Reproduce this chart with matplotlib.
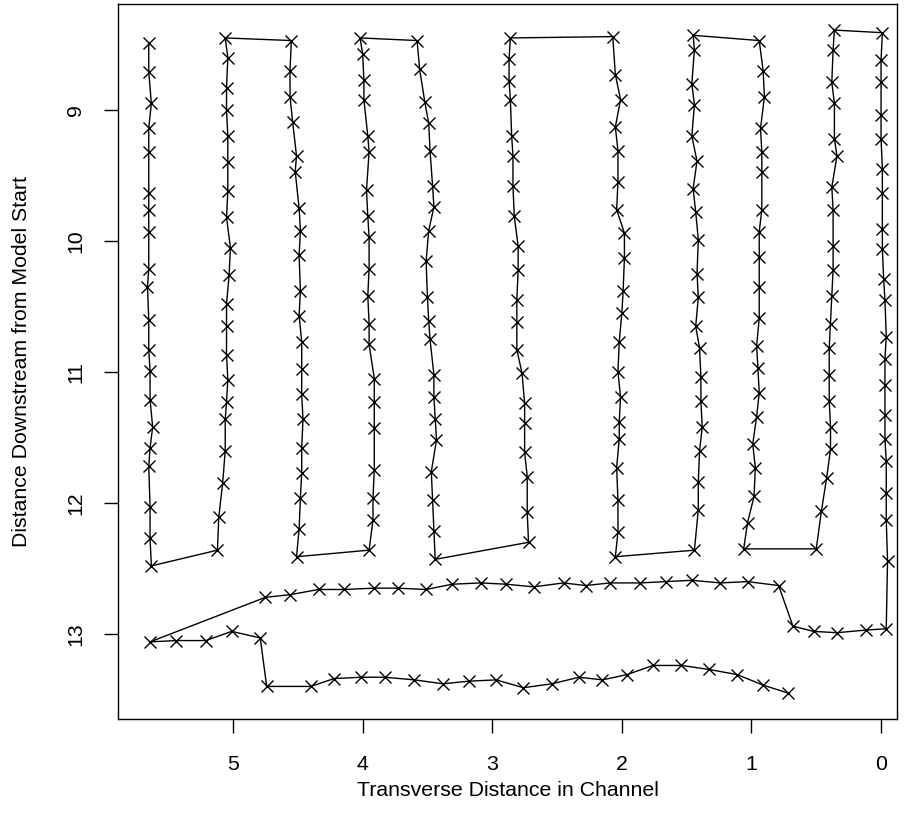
import matplotlib.pyplot as plt
import numpy as np

plt.rcParams['font.family'] = ['Liberation Sans', 'DejaVu Sans']

# survey track, in the order it was walked
# lower pass (right to left), then the short hook back up
low_x = [0.72, 0.91, 1.11, 1.33, 1.54, 1.76, 1.96, 2.15, 2.33, 2.54, 2.76, 2.97, 3.18, 3.38, 3.60, 3.83, 4.01, 4.22, 4.40, 4.74,
         4.79, 5.01, 5.21, 5.44, 5.64]
low_y = [13.45, 13.39, 13.31, 13.27, 13.24, 13.24, 13.31, 13.35, 13.33, 13.38, 13.41, 13.35, 13.36, 13.38, 13.35, 13.33, 13.33, 13.34, 13.40, 13.40,
         13.03, 12.98, 13.05, 13.05, 13.06]

# upper pass (left to right) and the step down to the right bank
mid_x = [4.75, 4.56, 4.34, 4.14, 3.91, 3.73, 3.51, 3.31, 3.09, 2.89, 2.68, 2.45, 2.28, 2.09, 1.86, 1.66, 1.46, 1.24, 1.03, 0.79,
         0.68, 0.52, 0.34, 0.12, -0.04]
mid_y = [12.72, 12.70, 12.66, 12.66, 12.65, 12.65, 12.66, 12.62, 12.61, 12.62, 12.64, 12.61, 12.63, 12.61, 12.61, 12.60, 12.59, 12.61, 12.60, 12.63,
         12.94, 12.98, 12.99, 12.97, 12.96]

# longitudinal transects, right bank to left bank (alternating direction)
t1_x = [-0.05, -0.04, -0.04, -0.04, -0.03, -0.03, -0.03, -0.03, -0.04, -0.03, -0.02, -0.01, -0.01, -0.01, -0.01, 0.00, 0.00, 0.00, 0.00, -0.01]
t1_y = [12.44, 12.13, 11.92, 11.68, 11.51, 11.33, 11.10, 10.90, 10.73, 10.45, 10.29, 10.06, 9.91, 9.63, 9.45, 9.22, 9.04, 8.79, 8.62, 8.41]

t2_x = [0.36, 0.37, 0.38, 0.36, 0.36, 0.34, 0.38, 0.37, 0.37, 0.37, 0.38, 0.39, 0.40, 0.40, 0.40, 0.39, 0.39, 0.42, 0.46, 0.50]
t2_y = [8.39, 8.54, 8.79, 8.95, 9.22, 9.35, 9.59, 9.76, 10.04, 10.22, 10.42, 10.63, 10.82, 11.02, 11.22, 11.42, 11.59, 11.81, 12.06, 12.35]

t3_x = [1.06, 1.03, 0.98, 0.97, 0.99, 0.96, 0.94, 0.95, 0.96, 0.94, 0.94, 0.94, 0.94, 0.92, 0.92, 0.92, 0.93, 0.90, 0.91, 0.94]
t3_y = [12.35, 12.15, 11.95, 11.73, 11.55, 11.34, 11.16, 10.97, 10.80, 10.59, 10.35, 10.12, 9.93, 9.76, 9.47, 9.32, 9.14, 8.90, 8.70, 8.47]

t4_x = [1.45, 1.44, 1.46, 1.44, 1.46, 1.42, 1.45, 1.43, 1.41, 1.42, 1.41, 1.43, 1.40, 1.39, 1.39, 1.38, 1.40, 1.41, 1.41, 1.44]
t4_y = [8.43, 8.54, 8.80, 8.96, 9.20, 9.39, 9.60, 9.78, 9.99, 10.25, 10.43, 10.65, 10.82, 11.04, 11.22, 11.42, 11.60, 11.84, 12.05, 12.36]

t5_x = [2.05, 2.03, 2.03, 2.04, 2.02, 2.02, 2.01, 2.03, 2.02, 2.00, 1.99, 1.98, 1.98, 2.04, 2.03, 2.03, 2.05, 2.01, 2.05, 2.07]
t5_y = [12.41, 12.22, 11.98, 11.73, 11.51, 11.38, 11.19, 11.00, 10.77, 10.55, 10.38, 10.13, 9.94, 9.76, 9.55, 9.31, 9.13, 8.92, 8.73, 8.44]

t6_x = [2.86, 2.87, 2.87, 2.86, 2.85, 2.84, 2.84, 2.83, 2.80, 2.80, 2.81, 2.81, 2.81, 2.77, 2.75, 2.75, 2.75, 2.73, 2.73, 2.72]
t6_y = [8.45, 8.61, 8.78, 8.92, 9.20, 9.35, 9.58, 9.81, 10.04, 10.22, 10.45, 10.62, 10.83, 11.01, 11.24, 11.39, 11.61, 11.80, 12.07, 12.30]

t7_x = [3.44, 3.45, 3.46, 3.47, 3.43, 3.44, 3.45, 3.45, 3.48, 3.49, 3.50, 3.51, 3.49, 3.45, 3.46, 3.48, 3.49, 3.52, 3.56, 3.58]
t7_y = [12.43, 12.21, 11.98, 11.76, 11.52, 11.36, 11.19, 11.02, 10.75, 10.61, 10.43, 10.15, 9.92, 9.74, 9.58, 9.31, 9.10, 8.94, 8.69, 8.47]

t8_x = [4.02, 4.00, 3.99, 3.99, 3.96, 3.95, 3.97, 3.96, 3.95, 3.95, 3.96, 3.95, 3.95, 3.91, 3.91, 3.91, 3.91, 3.92, 3.92, 3.95]
t8_y = [8.45, 8.57, 8.77, 8.92, 9.20, 9.32, 9.61, 9.81, 9.97, 10.21, 10.42, 10.63, 10.79, 11.05, 11.23, 11.43, 11.75, 11.96, 12.13, 12.36]

t9_x = [4.51, 4.49, 4.48, 4.47, 4.47, 4.46, 4.47, 4.47, 4.47, 4.49, 4.48, 4.49, 4.48, 4.49, 4.52, 4.51, 4.54, 4.56, 4.56, 4.55]
t9_y = [12.41, 12.20, 11.96, 11.77, 11.58, 11.36, 11.17, 10.98, 10.77, 10.57, 10.38, 10.11, 9.92, 9.75, 9.47, 9.35, 9.09, 8.90, 8.70, 8.47]

t10_x = [5.06, 5.04, 5.05, 5.05, 5.04, 5.04, 5.04, 5.05, 5.02, 5.03, 5.05, 5.05, 5.05, 5.04, 5.05, 5.06, 5.06, 5.08, 5.11, 5.12]
t10_y = [8.45, 8.60, 8.83, 9.00, 9.20, 9.40, 9.62, 9.82, 10.05, 10.26, 10.48, 10.65, 10.87, 11.06, 11.23, 11.36, 11.60, 11.85, 12.11, 12.36]

t11_x = [5.63, 5.64, 5.64, 5.65, 5.64, 5.62, 5.64, 5.64, 5.65, 5.65, 5.66, 5.65, 5.65, 5.65, 5.65, 5.65, 5.65, 5.63, 5.65, 5.65]
t11_y = [12.48, 12.27, 12.03, 11.72, 11.58, 11.42, 11.21, 10.99, 10.83, 10.60, 10.35, 10.21, 9.93, 9.76, 9.63, 9.32, 9.14, 8.95, 8.71, 8.49]

xs = np.concatenate([low_x, mid_x, t1_x, t2_x, t3_x, t4_x, t5_x, t6_x, t7_x, t8_x, t9_x, t10_x, t11_x])
ys = np.concatenate([low_y, mid_y, t1_y, t2_y, t3_y, t4_y, t5_y, t6_y, t7_y, t8_y, t9_y, t10_y, t11_y])

fig = plt.figure(figsize=(9.09, 8.34), dpi=100)
ax = fig.add_axes([118.3/909, 1-719.3/834, (897-118.3)/909, (719.3-4)/834])

ax.plot(xs, ys, '-', color='black', lw=1.0, marker='x', ms=8.5, mew=1.0)

ax.set_xlim(5.885, -0.123)
ax.set_ylim(13.651, 8.191)
ax.set_xticks([0, 1, 2, 3, 4, 5])
ax.set_yticks([9, 10, 11, 12, 13])
ax.tick_params(axis='both', direction='out', length=10, width=1, labelsize=15.3)
ax.tick_params(axis='x', pad=16)
ax.tick_params(axis='y', pad=14)
for lab in ax.get_yticklabels():
    lab.set_rotation(90)
    lab.set_va('center')
for s in ax.spines.values():
    s.set_linewidth(1)

fig.text((118.3+897)/2/909, 1-790/834, 'Transverse Distance in Channel', ha='center', va='center', fontsize=15.3)
fig.text(22/909, 1-361.7/834, 'Distance Downstream from Model Start', ha='center', va='center', rotation=90, fontsize=15.3)

fig.savefig('out.png', dpi=100)
